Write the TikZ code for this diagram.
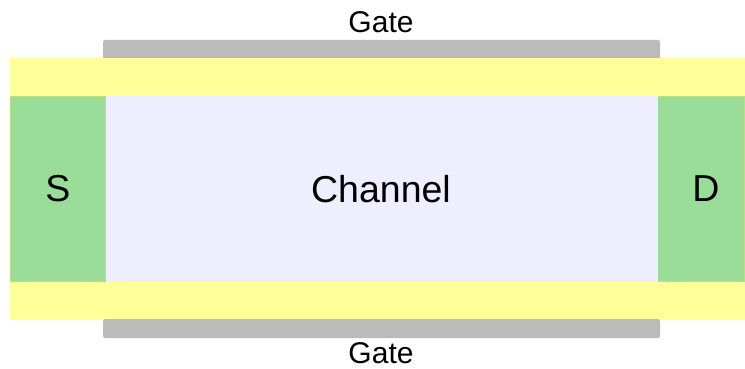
\documentclass[tikz,border=0pt]{standalone}
\usepackage{fontspec}
\setmainfont{Liberation Sans}
\definecolor{oxide}{HTML}{FFFF99}
\definecolor{doped}{HTML}{99DD99}
\definecolor{chan}{HTML}{EEEEFF}
\definecolor{metal}{HTML}{BBBBBB}
\definecolor{edge}{HTML}{B8E07C}
\begin{document}
\begin{tikzpicture}[x=1pt,y=-1pt,
  gatebar/.style={fill=metal, rounded corners=2pt},
  lbl/.style={inner sep=0pt, font=\fontsize{30}{34}\selectfont},
  big/.style={inner sep=0pt, font=\fontsize{37.5}{42}\selectfont}]
  \useasboundingbox (0,0) rectangle (745,369);
  % gate electrodes
  \fill[gatebar] (103,40) rectangle (660,59);
  \fill[gatebar] (103,319) rectangle (660,338);
  % oxide layers
  \fill[oxide] (10,58) rectangle (745,96);
  \fill[oxide] (10,282) rectangle (745,319);
  % source, channel, drain
  \fill[chan] (105,96) rectangle (658,282);
  \filldraw[fill=doped, draw=edge, line width=0.8pt] (10.4,96.4) rectangle (105,281.6);
  \filldraw[fill=doped, draw=edge, line width=0.8pt] (658,96.4) rectangle (744.6,281.6);
  \fill[doped] (11,97) rectangle (105,281);
  \fill[doped] (658,97) rectangle (744,281);
  % labels
  \node[lbl] (gtop) at (381,22) {Gate};
  \node[lbl] (gbot) at (381,353) {Gate};
  \node[big] (src) at (58,189) {S};
  \node[big] (drn) at (706,189) {D};
  \node[big] (ch) at (381,189) {Channel};
\end{tikzpicture}
\end{document}
